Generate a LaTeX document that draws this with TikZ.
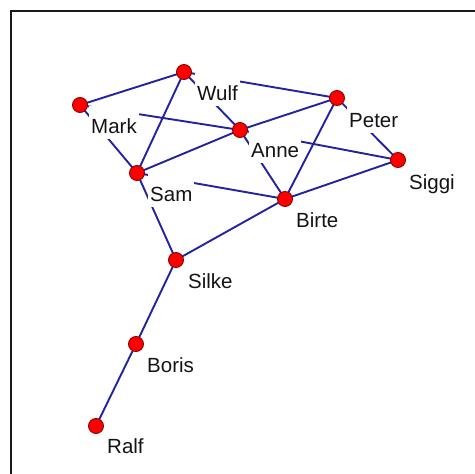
\documentclass[tikz,border=0pt]{standalone}
\usepackage{fontspec}
\setmainfont{Liberation Sans}
\definecolor{edgeblue}{RGB}{35,35,160}
\definecolor{vertborder}{RGB}{140,0,0}
\definecolor{framegray}{RGB}{25,25,25}
\begin{document}
\begin{tikzpicture}[x=1pt,y=-1pt,
  vert/.style={circle,fill=red,draw=vertborder,line width=0.9pt,minimum size=15pt,inner sep=0pt},
  lbl/.style={anchor=base west,fill=white,inner xsep=2pt,inner ysep=0pt,text height=28pt,text depth=5.5pt,font=\fontsize{20.5}{24}\selectfont,text={rgb,255:red,20;green,20;blue,20}},
  edge/.style={draw=edgeblue,line width=1.9pt},
  framestyle/.style={draw=framegray,line width=1.8pt}]
\useasboundingbox (0,0) rectangle (475,474);
\fill[white] (0,0) rectangle (475,474);
% frame
\coordinate (fb) at (11,474);
\coordinate (fc) at (11,11);
\coordinate (fr) at (475,11);
\draw[framestyle] (fb) -- (fc) -- (fr);
% vertex positions
\coordinate (Mark) at (80,105);
\coordinate (Wulf) at (184,72);
\coordinate (Anne) at (240,130);
\coordinate (Peter) at (337,98);
\coordinate (Siggi) at (398,160);
\coordinate (Sam) at (137,173);
\coordinate (Birte) at (285,199);
\coordinate (Silke) at (176,260);
\coordinate (Boris) at (136,344);
\coordinate (Ralf) at (96,426);
% edges
\draw[edge] (Mark) -- (Wulf);
\draw[edge] (Mark) -- (Anne);
\draw[edge] (Mark) -- (Sam);
\draw[edge] (Wulf) -- (Sam);
\draw[edge] (Wulf) -- (Anne);
\draw[edge] (Wulf) -- (Peter);
\draw[edge] (Anne) -- (Sam);
\draw[edge] (Anne) -- (Peter);
\draw[edge] (Anne) -- (Siggi);
\draw[edge] (Anne) -- (Birte);
\draw[edge] (Peter) -- (Birte);
\draw[edge] (Peter) -- (Siggi);
\draw[edge] (Sam) -- (Birte);
\draw[edge] (Sam) -- (Silke);
\draw[edge] (Birte) -- (Siggi);
\draw[edge] (Birte) -- (Silke);
\draw[edge] (Silke) -- (Boris);
\draw[edge] (Boris) -- (Ralf);
% labels
\node[lbl] (Mark-l) at ([shift={(9,28.5)}]Mark) {Mark};
\node[lbl] (Wulf-l) at ([shift={(11,28.5)}]Wulf) {Wulf};
\node[lbl] (Anne-l) at ([shift={(9,27.5)}]Anne) {Anne};
\node[lbl] (Peter-l) at ([shift={(10,29)}]Peter) {Peter};
\node[lbl] (Siggi-l) at ([shift={(9,29.5)}]Siggi) {Siggi};
\node[lbl] (Sam-l) at ([shift={(11,28.5)}]Sam) {Sam};
\node[lbl] (Birte-l) at ([shift={(9,28.5)}]Birte) {Birte};
\node[lbl] (Silke-l) at ([shift={(10,28)}]Silke) {Silke};
\node[lbl] (Boris-l) at ([shift={(9,28)}]Boris) {Boris};
\node[lbl] (Ralf-l) at ([shift={(9,27)}]Ralf) {Ralf};
% vertices
\foreach \v in {Mark,Wulf,Anne,Peter,Siggi,Sam,Birte,Silke,Boris,Ralf}
  \node[vert] (\v-v) at (\v) {};
\end{tikzpicture}
\end{document}
